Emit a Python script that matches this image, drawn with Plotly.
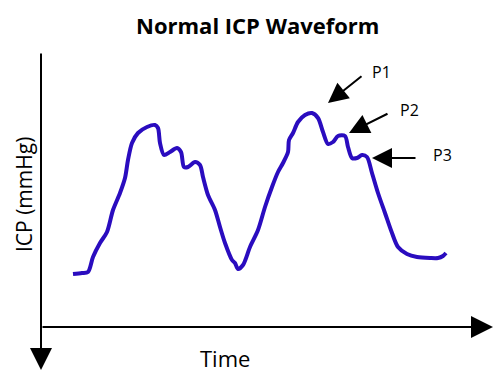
import plotly.graph_objects as go

# Waveform samples (time, ICP) in arbitrary units, origin at the axes corner
time = [32, 41, 47, 52, 59, 66, 72, 79, 84, 87, 91, 97, 106, 114, 117, 119, 123, 129, 136,
        140, 143, 147, 154, 159, 162, 167, 174, 179, 184, 191, 194, 197, 202, 209, 217, 224,
        231, 237, 242, 247, 248, 252, 257, 264, 271, 277, 282, 287, 292, 297, 304, 307, 311,
        316, 321, 326, 331, 337, 344, 351, 357, 366, 376, 389, 397, 402, 405]
icp = [53, 54, 55, 70, 84, 95, 117, 134, 149, 167, 184, 194, 200, 202, 199, 184, 172, 175, 179,
       175, 160, 160, 165, 162, 150, 132, 117, 100, 84, 67, 64, 58, 62, 80, 97, 120, 140, 155,
       164, 175, 187, 194, 205, 212, 214, 209, 195, 183, 185, 191, 191, 180, 169, 169, 172,
       170, 154, 134, 114, 94, 80, 73, 70, 69, 69, 71, 74]

# Peak labels: (name, label position, arrow tail, arrow tip)
peak_names = ["P1", "P2", "P3"]
label_t = [340, 368, 401]
label_icp = [255, 217, 172]
tail_t = [322, 348, 376]
tail_icp = [252, 214, 169]
tip_t = [287, 308, 331]
tip_icp = [224, 194, 169]

fig = go.Figure()
fig.add_trace(go.Scatter(
    x=time, y=icp, mode="lines",
    line=dict(color="#2a0cbf", width=4, shape="spline", smoothing=0.8),
    hoverinfo="skip", showlegend=False))

ann = []
# y axis (arrow pointing down)
ann.append(dict(x=0, y=-43, ax=0, ay=275, xref="x", yref="y", axref="x", ayref="y",
                text="", showarrow=True, arrowhead=2, arrowwidth=2, arrowsize=2.2,
                arrowcolor="black", standoff=0))
# x axis (arrow pointing right)
ann.append(dict(x=452, y=0, ax=0, ay=0, xref="x", yref="y", axref="x", ayref="y",
                text="", showarrow=True, arrowhead=2, arrowwidth=2, arrowsize=2.2,
                arrowcolor="black", standoff=0))
for n, lt, li, at, ai, pt, pi in zip(peak_names, label_t, label_icp, tail_t, tail_icp, tip_t, tip_icp):
    ann.append(dict(x=pt, y=pi, ax=at, ay=ai, xref="x", yref="y", axref="x", ayref="y",
                    text="", showarrow=True, arrowhead=2, arrowwidth=2, arrowsize=2,
                    arrowcolor="black", standoff=0))
    ann.append(dict(x=lt, y=li, xref="x", yref="y", text=n, showarrow=False,
                    font=dict(family="Open Sans", size=16, color="black")))
ann.append(dict(x=184, y=-31, xref="x", yref="y", text="Time", showarrow=False,
                font=dict(family="Open Sans", size=22, color="black")))
ann.append(dict(x=0, y=132, xref="paper", yref="y", xanchor="left", text="ICP (mmHg)",
                showarrow=False, textangle=-90,
                font=dict(family="Open Sans", size=21, color="black")))
ann.append(dict(x=216, y=1, xref="x", yref="paper", yanchor="top",
                text="<b>Normal ICP Waveform</b>", showarrow=False,
                font=dict(family="Open Sans", size=22, color="black")))

fig.update_layout(
    width=493, height=370,
    margin=dict(l=0, r=0, t=0, b=0),
    paper_bgcolor="white", plot_bgcolor="white",
    xaxis=dict(range=[-33, 460], visible=False, fixedrange=True),
    yaxis=dict(range=[-51, 319], visible=False, fixedrange=True),
    annotations=ann,
)
fig.write_html("out.html")
